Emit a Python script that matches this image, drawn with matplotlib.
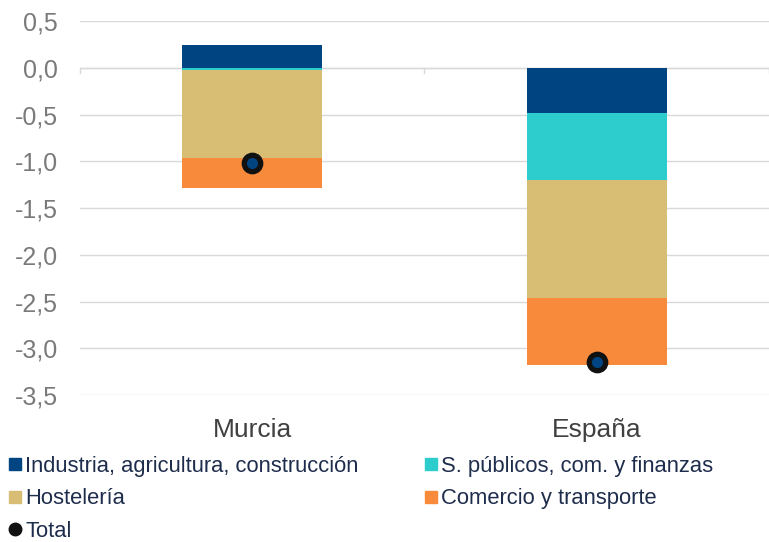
import matplotlib.pyplot as plt
import numpy as np
from matplotlib.lines import Line2D

plt.rcParams['font.family'] = ['Liberation Sans', 'DejaVu Sans']

regions = ["Murcia", "España"]
series = ["Industria, agricultura, construcción", "S. públicos, com. y finanzas",
          "Hostelería", "Comercio y transporte"]
industria = [0.25, -0.48]
servicios = [-0.02, -0.72]
hosteleria = [-0.945, -1.265]
comercio = [-0.315, -0.71]
total = [-1.02, -3.15]

colors = ["#004481", "#2dcccd", "#d8be75", "#f78b3b"]

fig = plt.figure(figsize=(7.69, 5.42), dpi=100)
ax = fig.add_axes([0.104, 0.271, 0.896, 0.690])

x = np.arange(len(regions))
pos_base = np.zeros(len(regions))
neg_base = np.zeros(len(regions))
for vals, col in zip([industria, servicios, hosteleria, comercio], colors):
    vals = np.array(vals)
    base = np.where(vals >= 0, pos_base, neg_base)
    ax.bar(x, vals, bottom=base, width=0.406, color=col, zorder=2)
    pos_base = pos_base + np.where(vals >= 0, vals, 0)
    neg_base = neg_base + np.where(vals < 0, vals, 0)

ax.scatter(x, total, s=140, color="#004481", edgecolor="#111111", linewidth=3.8, zorder=3)

ax.set_xlim(-0.5, 1.5)
ax.set_ylim(-3.5, 0.5)
ax.set_yticks(np.arange(-3.5, 0.51, 0.5))
ax.set_yticklabels([f"{v:.1f}".replace(".", ",") for v in np.arange(-3.5, 0.51, 0.5)])
ax.grid(True, axis="y", color="#d9d9d9", linewidth=1, zorder=0)
ax.tick_params(axis="y", length=0, labelsize=18, labelcolor="#7a7a7a", pad=16)
for s in ["top", "right", "left", "bottom"]:
    ax.spines[s].set_visible(False)

# category axis at zero with boundary ticks
ax.axhline(0, color="#d9d9d9", linewidth=1, zorder=1)
for b in [-0.5, 0.5, 1.5]:
    ax.plot([b, b], [0, -0.06], color="#d9d9d9", linewidth=1, zorder=1, clip_on=False)
ax.set_xticks([])
for xi, name in zip(x, regions):
    ax.text(xi, -3.87, name, ha="center", va="center", fontsize=19, color="#404040")

handles = [Line2D([], [], marker="s", linestyle="", markersize=9, color=colors[0]),
           Line2D([], [], marker="s", linestyle="", markersize=9, color=colors[2]),
           Line2D([], [], marker="o", linestyle="", markersize=9, color="#111111"),
           Line2D([], [], marker="s", linestyle="", markersize=9, color=colors[1]),
           Line2D([], [], marker="s", linestyle="", markersize=9, color=colors[3])]
labels = [series[0], series[2], "Total", series[1], series[3]]
leg = fig.legend(handles, labels, ncol=2, loc="upper left", bbox_to_anchor=(0.0, 0.175),
                 frameon=False, fontsize=15.8, handlelength=0.6, handletextpad=0.15,
                 columnspacing=3.0, labelspacing=0.52, borderaxespad=0)
for t in leg.get_texts():
    t.set_color("#1f2d4d")

fig.savefig("out.png", dpi=100)
